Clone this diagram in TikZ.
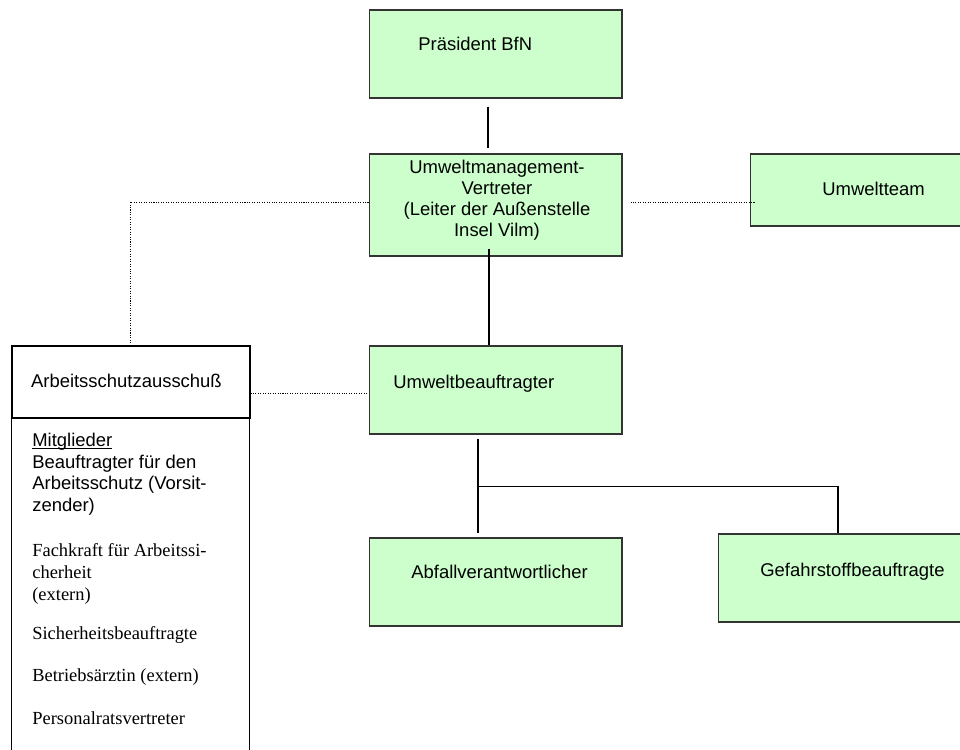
\documentclass[tikz,border=0pt]{standalone}
\usepackage{fontspec}
\setmainfont{Liberation Sans}
\newfontfamily\timesfont{Liberation Serif}
\usetikzlibrary{calc}
\definecolor{amtgreen}{HTML}{CCFFCC}
\definecolor{rahmen}{HTML}{333333}
\newcommand\strich[1]{\setbox0\hbox{#1}\rlap{\rule[-1.4pt]{\wd0}{0.5pt}}#1}

\tikzset{
	amt/.style={draw=rahmen, fill=amtgreen, line width=0.6pt, minimum width=5.06cm, minimum height=1.76cm, inner sep=0pt},
	gremium/.style={draw, line width=0.6pt, minimum width=4.76cm, minimum height=1.44cm, inner sep=0pt},
	txt/.style={inner sep=0pt, anchor=base west, font=\fontsize{10.5}{12.3}\selectfont},
	link/.style={line width=0.7pt},
	dotlink/.style={line width=0.5pt, dash pattern=on 0.6pt off 0.8pt}
}

\begin{document}
\begin{tikzpicture}[x=0.02cm, y=-0.02cm]
	\useasboundingbox (0,0) rectangle (960,750);
	\clip (0,0) rectangle (960,750);
	
	% green boxes
	\node[amt] (pres) at (495.5,54) {};
	\node[amt, minimum height=2.04cm] (umv) at (495.5,205) {};
	\node[amt, minimum height=1.44cm] (team) at (876.5,190) {};
	\node[amt] (ub) at (495.5,390) {};
	\node[amt] (abf) at (495.5,582) {};
	\node[amt] (gef) at (844.5,578) {};
	
	% committee box
	\node[gremium] (asa) at (131,382) {};
	\draw[line width=0.6pt] (asa.south west) rectangle ++(238,370);
	
	% texts
	\node[txt] (tpres) at (418,51) {Präsident BfN};
	\node[txt, anchor=north, align=center, font=\fontsize{10.5}{11.9}\selectfont] (tumv) at (497,160)
		{Umweltmanagement-\\Vertreter\\(Leiter der Außenstelle\\Insel Vilm)};
	\node[txt] (tteam) at (822,195) {Umweltteam};
	\node[txt] (tub) at (393,388) {Umweltbeauftragter};
	\node[txt] (tabf) at (411,578) {Abfallverantwortlicher};
	\node[txt] (tgef) at (760,576) {Gefahrstoffbeauftragte};
	\node[txt] (tasa) at (30.7,387) {Arbeitsschutzausschuß};
	
	% members
	\node[txt, anchor=north west, align=left] (m1) at (32,433)
		{\strich{Mitglieder}\\Beauftragter für den\\Arbeitsschutz (Vorsit-\\zender)};
	\node[txt, anchor=north west, align=left, font=\timesfont\fontsize{10.5}{12.5}\selectfont] (m2) at (32,543)
		{Fachkraft für Arbeitssi-\\cherheit\\(extern)};
	\node[txt, font=\timesfont\fontsize{10.5}{12.5}\selectfont] (m3) at (32,639) {Sicherheitsbeauftragte};
	\node[txt, font=\timesfont\fontsize{10.5}{12.5}\selectfont] (m4) at (32,681) {Betriebsärztin (extern)};
	\node[txt, font=\timesfont\fontsize{10.5}{12.5}\selectfont] (m5) at (32,724) {Personalratsvertreter};
	
	% solid lines
	\draw[link] ($(pres.south)+(-7.5,8)$) -- ($(umv.north)+(-7.5,-5)$);
	\draw[link] ($(umv.south)+(-6.5,-8)$) -- ($(ub.north)+(-6.5,0)$);
	\coordinate (fork) at ($(ub.south)+(-17.5,52)$);
	\draw[link] ($(ub.south)+(-17.5,4)$) -- ($(abf.north)+(-17.5,-4)$);
	\draw[link] (fork) -| ($(gef.north)+(-6.5,0)$);
	
	% dotted lines
	\draw[dotlink] ($(umv.east)+(8,-3)$) -- ($(team.west)+(5,12)$);
	\draw[dotlink] ($(umv.west)+(0,-3)$) -| ($(asa.north)+(-1,0)$);
	\draw[dotlink] ($(asa.east)+(0,11)$) -- ($(ub.west)+(0,3)$);
	
\end{tikzpicture}
\end{document}
